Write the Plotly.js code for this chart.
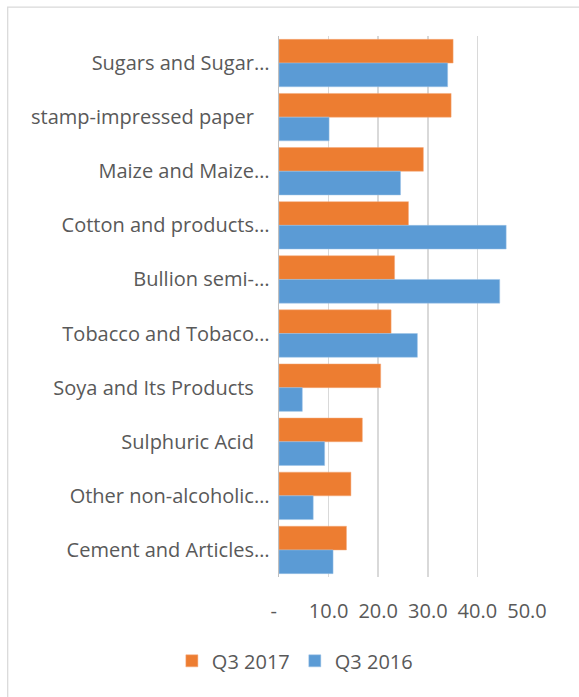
<!DOCTYPE html>
<html>
<head>
<meta charset="utf-8">
<script src="https://cdn.plot.ly/plotly-3.0.1.min.js"></script>
<style>
html,body{margin:0;padding:0;background:#fff;overflow:hidden;}
#chart{width:579px;height:697px;}
</style>
</head>
<body>
<div id="chart"></div>
<script>
const categories = [
  "Sugars and Sugar…",
  "stamp-impressed paper\u00a0\u00a0\u00a0",
  "Maize and Maize…",
  "Cotton and products…",
  "Bullion semi-…",
  "Tobacco and Tobaco…",
  "Soya and Its Products\u00a0\u00a0\u00a0",
  "Sulphuric Acid\u00a0\u00a0\u00a0",
  "Other non-alcoholic…",
  "Cement and Articles…"
];
const q3_2017 = [35.1, 34.7, 29.1, 26.1, 23.3, 22.6, 20.5, 16.8, 14.5, 13.6];
const q3_2016 = [34.0, 10.1, 24.5, 45.8, 44.5, 27.9, 4.7, 9.2, 6.9, 10.9];
const tickVals = [0, 10, 20, 30, 40, 50];
const tickText = ["-\u00a0\u00a0", "10.0", "20.0", "30.0", "40.0", "50.0"];

const font = {family: "Open Sans, sans-serif", size: 20, color: "#595959"};

const traces = [
  {type: "bar", orientation: "h", name: "Q3 2017", y: categories, x: q3_2017,
   marker: {color: "#ED7D31", line: {color: "#F4A97A", width: 0.5}}, hoverinfo: "x"},
  {type: "bar", orientation: "h", name: "Q3 2016", y: categories, x: q3_2016,
   marker: {color: "#5B9BD5", line: {color: "#9DC3E6", width: 0.5}}, hoverinfo: "x"}
];

const layout = {
  width: 579, height: 697,
  margin: {l: 278.5, r: 52.3, t: 36, b: 120},
  paper_bgcolor: "#ffffff", plot_bgcolor: "#ffffff",
  font: font,
  barmode: "group", bargap: 0.124, bargroupgap: 0,
  showlegend: true,
  legend: {orientation: "h", x: 0.064, xanchor: "center", y: -0.155, yanchor: "middle",
           font: font, traceorder: "normal"},
  xaxis: {range: [0, 50], tickvals: tickVals, ticktext: tickText,
          showgrid: true, gridcolor: "#d9d9d9", gridwidth: 1.5,
          zeroline: false, showline: false, ticks: "", ticklabelstandoff: 20,
          tickfont: font, fixedrange: true},
  yaxis: {type: "category", autorange: "reversed", showline: true,
          linecolor: "#bfbfbf", linewidth: 1.5, ticks: "", showgrid: false,
          tickfont: font, fixedrange: true, ticklabelstandoff: 4},
  shapes: [{type: "rect", xref: "paper", yref: "paper",
            x0: -1.094, x1: 1.3, y0: -0.3, y1: 1.0536,
            line: {color: "#d9d9d9", width: 1.25}, layer: "below"}]
};

Plotly.newPlot("chart", traces, layout, {displayModeBar: false, staticPlot: true});
</script>
</body>
</html>
